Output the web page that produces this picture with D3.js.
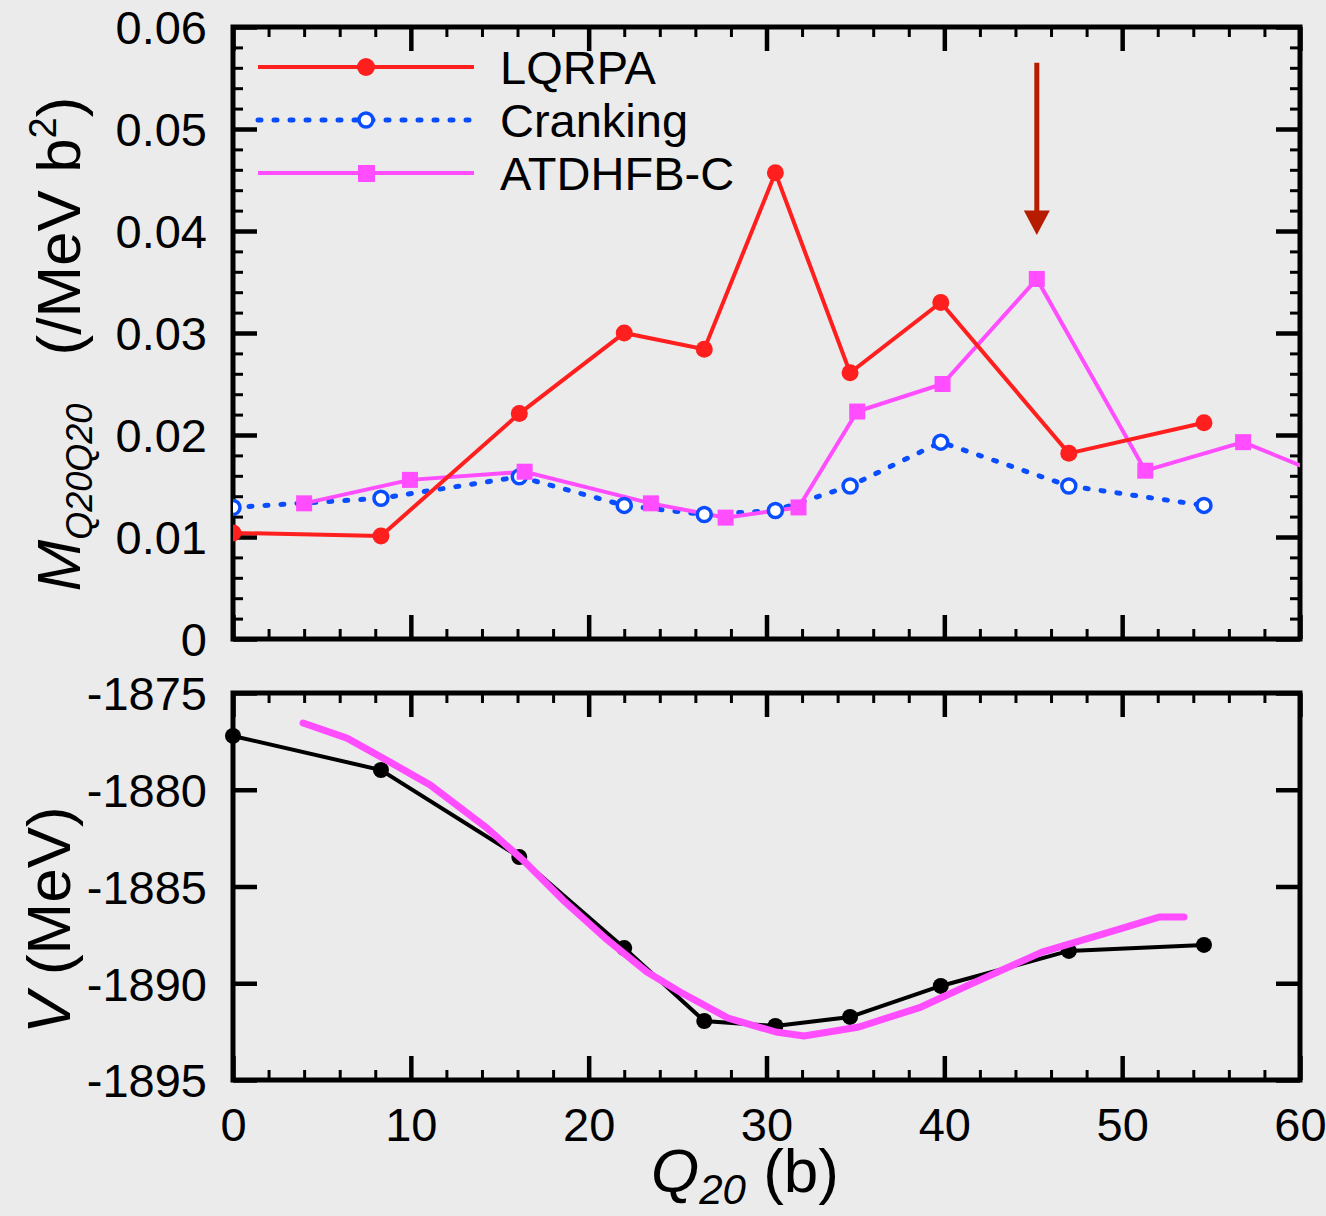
<!DOCTYPE html>
<html lang="en">
<head>
<meta charset="UTF-8">
<title>Collective mass and potential vs Q20</title>
<script src="https://d3js.org/d3.v7.min.js"></script>
<style>
  body { margin: 0; background: #ebebeb; }
  svg { display: block; font-family: "Liberation Sans", Arial, Helvetica, sans-serif; }
  .tick text { font-size: 47px; fill: #000; }
</style>
</head>
<body>
<div id="chart"></div>
<script>
// Q20 grid (b) shared by LQRPA, Cranking and the black V curve
var qGrid = [0, 8.32, 16.1, 22.0, 26.5, 30.5, 34.7, 39.8, 47.0, 54.6];
var lqrpa = [0.0104, 0.0101, 0.0221, 0.0300, 0.0284, 0.0457, 0.0261, 0.0330, 0.0182, 0.0212];
var cranking = [0.0129, 0.0138, 0.0159, 0.0131, 0.0122, 0.0126, 0.0150, 0.0193, 0.0150, 0.0131];

// ATDHFB-C mass (last point lies past the axis and gets clipped)
var atdQ = [4.0, 9.95, 16.4, 23.5, 27.7, 31.8, 35.1, 39.9, 45.2, 51.3, 56.8, 62.0];
var atdM = [0.0133, 0.0156, 0.0164, 0.0133, 0.0119, 0.0129, 0.0223, 0.0250, 0.0353, 0.0165, 0.0193, 0.0156];

// potential energy (MeV)
var vPoints = [-1877.22, -1878.98, -1883.48, -1888.18, -1891.95, -1892.21, -1891.74, -1890.14, -1888.33, -1888.02];
var curveQ = [3.94, 6.41, 8.83, 11.08, 14.28, 16.42, 18.56, 20.92, 23.28, 25.14, 27.84, 30.53, 32.11, 35.2, 38.69, 41.61, 45.49, 49.32, 52.07, 53.48];
var curveV = [-1876.55, -1877.33, -1878.57, -1879.75, -1881.98, -1883.73, -1885.70, -1887.66, -1889.42, -1890.45, -1891.80, -1892.52, -1892.73, -1892.26, -1891.23, -1889.99, -1888.39, -1887.35, -1886.58, -1886.58];

var xTicks = [0, 10, 20, 30, 40, 50, 60];
var mTicks = [0, 0.01, 0.02, 0.03, 0.04, 0.05, 0.06];
var vTicks = [-1895, -1890, -1885, -1880, -1875];
var legendNames = ["LQRPA", "Cranking", "ATDHFB-C"];

var width = 1326, height = 1216;
var left = 233, right = 1300;
var topT = 27, botT = 639, topB = 693, botB = 1080;

var red = "#ff1f1f", blue = "#0a4dff", magenta = "#ff4dff";

var x = d3.scaleLinear().domain([0, 60]).range([left, right]);
var yM = d3.scaleLinear().domain([0, 0.06]).range([botT, topT]);
var yV = d3.scaleLinear().domain([-1895, -1875]).range([botB, topB]);

var svg = d3.select("#chart").append("svg")
    .attr("width", width)
    .attr("height", height);

svg.append("rect").attr("width", width).attr("height", height).attr("fill", "#ebebeb");

var defs = svg.append("defs");
defs.append("clipPath").attr("id", "clipTop").append("rect")
    .attr("x", left).attr("y", topT).attr("width", right - left).attr("height", botT - topT);

var minorX = d3.range(0, 61, 2).filter(function(d) { return d % 10 !== 0; });

// draw inward ticks on all four sides of a panel
function frame(yScale, majorY, minorY, yFormat) {
    var y0 = yScale.range()[0], y1 = yScale.range()[1];

    // bottom
    svg.append("g").attr("transform", "translate(0," + y0 + ")")
        .call(d3.axisBottom(x).tickValues(minorX).tickSizeInner(-10).tickSizeOuter(0).tickFormat(""))
        .call(styleAxis, 3);
    svg.append("g").attr("transform", "translate(0," + y0 + ")")
        .call(d3.axisBottom(x).tickValues(xTicks).tickSizeInner(-24).tickSizeOuter(0).tickFormat(""))
        .call(styleAxis, 4.5);
    // top
    svg.append("g").attr("transform", "translate(0," + y1 + ")")
        .call(d3.axisTop(x).tickValues(minorX).tickSizeInner(-10).tickSizeOuter(0).tickFormat(""))
        .call(styleAxis, 3);
    svg.append("g").attr("transform", "translate(0," + y1 + ")")
        .call(d3.axisTop(x).tickValues(xTicks).tickSizeInner(-24).tickSizeOuter(0).tickFormat(""))
        .call(styleAxis, 4.5);
    // left / right
    if (minorY.length) {
        svg.append("g").attr("transform", "translate(" + left + ",0)")
            .call(d3.axisLeft(yScale).tickValues(minorY).tickSizeInner(-10).tickSizeOuter(0).tickFormat(""))
            .call(styleAxis, 3);
        svg.append("g").attr("transform", "translate(" + right + ",0)")
            .call(d3.axisRight(yScale).tickValues(minorY).tickSizeInner(-10).tickSizeOuter(0).tickFormat(""))
            .call(styleAxis, 3);
    }
    var gl = svg.append("g").attr("transform", "translate(" + left + ",0)")
        .call(d3.axisLeft(yScale).tickValues(majorY).tickSizeInner(-24).tickSizeOuter(0).tickPadding(26).tickFormat(yFormat))
        .call(styleAxis, 4.5);
    gl.selectAll(".tick text").attr("dy", "0.36em");
    svg.append("g").attr("transform", "translate(" + right + ",0)")
        .call(d3.axisRight(yScale).tickValues(majorY).tickSizeInner(-24).tickSizeOuter(0).tickFormat(""))
        .call(styleAxis, 4.5);

    svg.append("rect")
        .attr("x", left).attr("y", y1)
        .attr("width", right - left).attr("height", y0 - y1)
        .attr("fill", "none").attr("stroke", "#000").attr("stroke-width", 5);
}

function styleAxis(g, w) {
    g.select(".domain").remove();
    g.selectAll(".tick line").attr("stroke", "#000").attr("stroke-width", w);
}

// ---------- top panel ----------
var minorM = d3.range(0, 61, 2).filter(function(d) { return d % 10 !== 0; }).map(function(d) { return d / 1000; });
frame(yM, mTicks, minorM, function(d) { return d === 0 ? "0" : d3.format(".2f")(d); });

var plotT = svg.append("g").attr("clip-path", "url(#clipTop)");
var lineM = d3.line().x(function(d) { return x(d[0]); }).y(function(d) { return yM(d[1]); });

var lqData = d3.zip(qGrid, lqrpa);
var crData = d3.zip(qGrid, cranking);
var atData = d3.zip(atdQ, atdM);

plotT.append("path").datum(crData).attr("d", lineM)
    .attr("fill", "none").attr("stroke", blue).attr("stroke-width", 5)
    .attr("stroke-dasharray", "3,13").attr("stroke-linecap", "round");
plotT.append("path").datum(atData).attr("d", lineM)
    .attr("fill", "none").attr("stroke", magenta).attr("stroke-width", 4);
plotT.append("path").datum(lqData).attr("d", lineM)
    .attr("fill", "none").attr("stroke", red).attr("stroke-width", 4);

plotT.selectAll(".cr").data(crData).enter().append("circle")
    .attr("cx", function(d) { return x(d[0]); }).attr("cy", function(d) { return yM(d[1]); })
    .attr("r", 7).attr("fill", "#fff").attr("stroke", blue).attr("stroke-width", 3.5);
plotT.selectAll(".at").data(atData).enter().append("rect")
    .attr("x", function(d) { return x(d[0]) - 8; }).attr("y", function(d) { return yM(d[1]) - 8; })
    .attr("width", 16).attr("height", 16).attr("fill", magenta);
plotT.selectAll(".lq").data(lqData).enter().append("circle")
    .attr("cx", function(d) { return x(d[0]); }).attr("cy", function(d) { return yM(d[1]); })
    .attr("r", 8.5).attr("fill", red);

// legend
var legY = [67, 120, 173];
var legColors = [red, blue, magenta];
legendNames.forEach(function(name, i) {
    var g = svg.append("g");
    var ln = g.append("line").attr("x1", 258).attr("x2", 474).attr("y1", legY[i]).attr("y2", legY[i])
        .attr("stroke", legColors[i]).attr("stroke-width", i === 1 ? 5 : 4);
    if (i === 1) ln.attr("stroke-dasharray", "3,13").attr("stroke-linecap", "round");
    if (i === 0) g.append("circle").attr("cx", 366).attr("cy", legY[i]).attr("r", 9).attr("fill", red);
    if (i === 1) g.append("circle").attr("cx", 366).attr("cy", legY[i]).attr("r", 7)
        .attr("fill", "#fff").attr("stroke", blue).attr("stroke-width", 3.5);
    if (i === 2) g.append("rect").attr("x", 358).attr("y", legY[i] - 8).attr("width", 17).attr("height", 17).attr("fill", magenta);
    g.append("text").attr("x", 500).attr("y", legY[i] + 17).attr("font-size", 47).text(name);
});

// arrow marking the ATDHFB-C peak
var ax = x(45.2);
svg.append("line").attr("x1", ax).attr("x2", ax).attr("y1", yM(0.0565)).attr("y2", yM(0.0415))
    .attr("stroke", "#b51c00").attr("stroke-width", 5);
svg.append("path")
    .attr("d", "M" + (ax - 13) + "," + yM(0.0420) + "L" + (ax + 13) + "," + yM(0.0420) + "L" + ax + "," + yM(0.0396) + "Z")
    .attr("fill", "#b51c00");

// ---------- bottom panel ----------
frame(yV, vTicks, [], function(d) { return String(d); });

var xLab = svg.append("g").attr("transform", "translate(0," + botB + ")")
    .call(d3.axisBottom(x).tickValues(xTicks).tickSize(0).tickPadding(28));
xLab.select(".domain").remove();
xLab.selectAll(".tick text").attr("dy", "0.71em");

var lineV = d3.line().x(function(d) { return x(d[0]); }).y(function(d) { return yV(d[1]); });
var vData = d3.zip(qGrid, vPoints);
var cData = d3.zip(curveQ, curveV);

svg.append("path").datum(vData).attr("d", lineV)
    .attr("fill", "none").attr("stroke", "#000").attr("stroke-width", 4);
svg.selectAll(".vp").data(vData).enter().append("circle")
    .attr("cx", function(d) { return x(d[0]); }).attr("cy", function(d) { return yV(d[1]); })
    .attr("r", 8).attr("fill", "#000");
svg.append("path").datum(cData).attr("d", lineV)
    .attr("fill", "none").attr("stroke", magenta).attr("stroke-width", 7)
    .attr("stroke-linecap", "round").attr("stroke-linejoin", "round");

// ---------- axis titles ----------
var tM = svg.append("text").attr("transform", "translate(80,344) rotate(-90)")
    .attr("text-anchor", "middle").attr("font-size", 62);
tM.append("tspan").attr("font-style", "italic").text("M");
tM.append("tspan").attr("font-style", "italic").attr("font-size", 36).attr("dy", 12).text("Q20Q20");
tM.append("tspan").attr("dy", -12).text("\u2002 (/MeV b");
tM.append("tspan").attr("font-size", 38).attr("dy", -24).text("2");
tM.append("tspan").attr("dy", 24).text(")");

var tV = svg.append("text").attr("transform", "translate(70,920) rotate(-90)")
    .attr("text-anchor", "middle").attr("font-size", 62);
tV.append("tspan").attr("font-style", "italic").text("V");
tV.append("tspan").text("  (MeV)");

var tQ = svg.append("text").attr("x", 745).attr("y", 1192)
    .attr("text-anchor", "middle").attr("font-size", 62);
tQ.append("tspan").attr("font-style", "italic").text("Q");
tQ.append("tspan").attr("font-style", "italic").attr("font-size", 42).attr("dy", 12).text("20");
tQ.append("tspan").attr("dy", -12).text(" (b)");
</script>
</body>
</html>
